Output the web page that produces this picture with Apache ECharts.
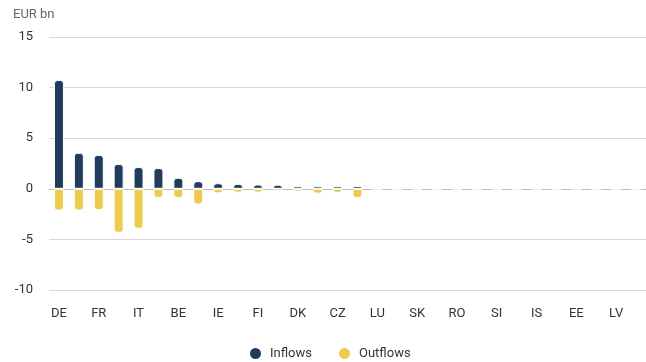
<!DOCTYPE html>
<html><head><meta charset="utf-8">
<script src="https://cdn.jsdelivr.net/npm/echarts@6/dist/echarts.min.js"></script>
<style>html,body{margin:0;padding:0;background:#fff}#c{width:646px;height:362px}</style>
</head><body><div id="c"></div>
<script>
const categories = ['DE','NL','FR','ES','IT','AT','BE','PT','IE','SE','FI','PL','DK','GR','CZ','HU','LU','HR','SK','BG','RO','LT','SI','CY','IS','MT','EE','NO','LV','LI'];
const inflows  = [10.75, 3.55, 3.35, 2.45, 2.15, 2.05, 1.08, 0.75, 0.55, 0.48, 0.42, 0.4, 0.25, 0.25, 0.25, 0.27, 0,0,0,0,0,0,0,0,0,0,0,0,0,0];
const outflows = [-2.15, -2.15, -2.1, -4.35, -3.95, -0.9, -0.9, -1.55, -0.45, -0.38, -0.38, 0, -0.27, -0.48, -0.4, -0.9, 0,0,0,0,0,0,0,0,0,0,0,0,0,0];
const yTicks = {min: -10, max: 15, interval: 5};
const unitLabel = 'EUR bn';

const FONT = 'Roboto, Arial, sans-serif';
const chart = echarts.init(document.getElementById('c'), null, {renderer: 'canvas'});
chart.setOption({
  animation: false,
  textStyle: {fontFamily: FONT},
  graphic: [{type: 'text', left: 13, top: 8, style: {text: unitLabel, fill: '#666', font: '13px ' + FONT}}],
  grid: {left: 49, right: -3, top: 37, bottom: 72},
  legend: {
    left: 243, top: 341, icon: 'circle', itemWidth: 13, itemHeight: 13, itemGap: 25,
    textStyle: {color: '#333', fontSize: 13, fontFamily: FONT, padding: [0, 0, 0, 3]},
    data: ['Inflows', 'Outflows']
  },
  xAxis: {
    type: 'category', data: categories,
    axisLine: {show: true, lineStyle: {color: '#bdbdbd', width: 1}},
    axisTick: {show: false},
    axisLabel: {interval: 1, color: '#333', fontSize: 13, margin: 17, fontFamily: FONT}
  },
  yAxis: {
    type: 'value', min: yTicks.min, max: yTicks.max, interval: yTicks.interval,
    axisLine: {show: false}, axisTick: {show: false},
    axisLabel: {color: '#333', fontSize: 13, margin: 16, fontFamily: FONT},
    splitLine: {lineStyle: {color: '#d9d9d9', width: 1}}
  },
  series: [
    {name: 'Inflows', type: 'bar', data: inflows, barWidth: 10, barGap: '-100%',
     itemStyle: {color: '#213b5c', borderColor: '#fff', borderWidth: 1, borderRadius: [3,3,0,0]}},
    {name: 'Outflows', type: 'bar', data: outflows, barWidth: 10,
     itemStyle: {color: '#eccb4f', borderColor: '#fff', borderWidth: 1, borderRadius: [0,0,3,3]}}
  ]
});
</script></body></html>
